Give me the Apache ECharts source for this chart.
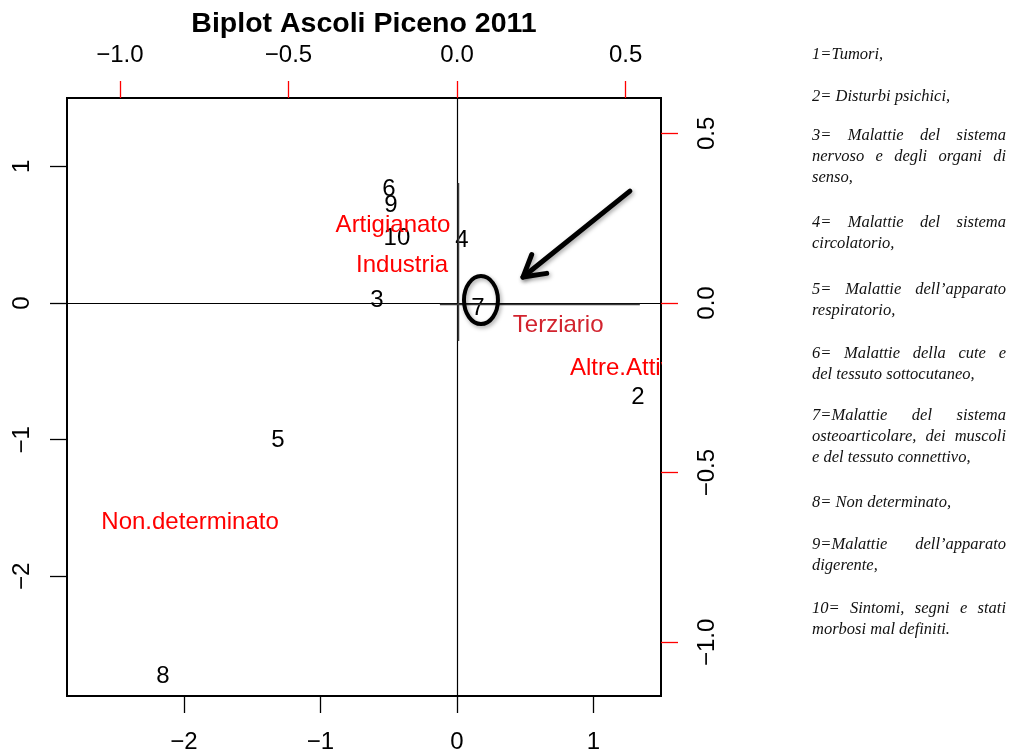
<!DOCTYPE html>
<html>
<head>
<meta charset="utf-8">
<script src="https://cdn.jsdelivr.net/npm/echarts@6/dist/echarts.min.js"></script>
<style>
  html, body { margin: 0; padding: 0; background: #fff; }
  #chart { width: 1019px; height: 756px; }
</style>
</head>
<body>
<div id="chart"></div>
<script>
// case scores (black numbers) -> bottom / left axes
const caseNames = ["2", "3", "4", "5", "6", "7", "8", "9", "10"];
const caseX = [1.326, -0.586, 0.037, -1.311, -0.498, 0.154, -2.154, -0.484, -0.44];
const caseY = [-0.688, 0.022, 0.461, -1.002, 0.834, -0.037, -2.729, 0.717, 0.475];

// variables (red labels) -> top / right axes
const varNames = ["Artigianato", "Industria", "Terziario", "Altre.Attività", "Non.determinato"];
const varX = [-0.19, -0.163, 0.30, 0.525, -0.792];
const varY = [0.23, 0.112, -0.065, -0.194, -0.645];

// tick labels
const bottomTicks = [-2, -1, 0, 1];
const leftTicks = [-2, -1, 0, 1];
const topTicks = [-1, -0.5, 0, 0.5];
const rightTicks = [-1, -0.5, 0, 0.5];

// axis ranges (as in the R biplot)
const xRange = [-2.857, 1.495];
const yRange = [-2.875, 1.5];
const x2Range = [-1.157, 0.605];
const y2Range = [-1.158, 0.604];

// hand-drawn annotation: circle round "7" and an arrow pointing at it
const circleAt = [0.176, 0.022];
const arrowFrom = [1.267, 0.819];
const arrowTo = [0.484, 0.19];
// axis lines of the pasted zoomed-in crop (slightly offset from the real ones)
const pastedV = [[0.011, 0.878], [0.011, -0.278]];
const pastedH = [[-0.125, -0.011], [1.34, -0.011]];

// side note text
const legendParas = [
  ["1=Tumori,"],
  ["2= Disturbi psichici,"],
  ["3= Malattie del sistema", "nervoso e degli organi di", "senso,"],
  ["4= Malattie del sistema", "circolatorio,"],
  ["5= Malattie dell’apparato", "respiratorio,"],
  ["6= Malattie della cute e", "del tessuto sottocutaneo,"],
  ["7=Malattie del sistema", "osteoarticolare, dei muscoli", "e del tessuto connettivo,"],
  ["8= Non determinato,"],
  ["9=Malattie dell’apparato", "digerente,"],
  ["10= Sintomi, segni e stati", "morbosi mal definiti."]
];

const SANS = '"Liberation Sans", Arial, Helvetica, sans-serif';
const SERIF_FONT = 'italic 16.5px "Liberation Serif", "Times New Roman", serif';
const GRID = { left: 67, right: 661, top: 98, bottom: 696 };

const varColors = { "Terziario": "#d2232e" };

const minus = (s) => String(s).replace("-", "\u2212");
const fmtInt = (v) => minus(Math.round(v));
const fmtOne = (v) => minus(v.toFixed(1));

const chart = echarts.init(document.getElementById("chart"));

function axis(position, range, ticks, fmt, color, margin, rotate) {
  return {
    type: "value",
    position: position,
    min: range[0],
    max: range[1],
    axisLine: { show: false, onZero: false },
    splitLine: { show: false },
    axisTick: {
      show: true,
      length: 17,
      customValues: ticks,
      lineStyle: { color: color, width: 1.3 }
    },
    axisLabel: {
      customValues: ticks,
      formatter: fmt,
      fontSize: 24,
      fontFamily: SANS,
      color: "#000",
      margin: margin,
      rotate: rotate || 0
    }
  };
}

const options = {
  animation: false,
  backgroundColor: "#fff",
  grid: {
    left: GRID.left,
    top: GRID.top,
    width: GRID.right - GRID.left,
    height: GRID.bottom - GRID.top,
    show: true,
    borderColor: "#000",
    borderWidth: 2,
    backgroundColor: "transparent",
    containLabel: false,
    outerBoundsMode: "none"
  },
  xAxis: [
    axis("bottom", xRange, bottomTicks, fmtInt, "#000", 34),
    axis("top", x2Range, topTicks, fmtOne, "#ff0000", 31)
  ],
  yAxis: [
    axis("left", yRange, leftTicks, fmtInt, "#000", 33, 90),
    axis("right", y2Range, rightTicks, fmtOne, "#ff0000", 34, 90)
  ],
  series: [
    {
      name: "casi",
      type: "scatter",
      xAxisIndex: 0,
      yAxisIndex: 0,
      symbolSize: 1,
      itemStyle: { color: "rgba(0,0,0,0)", opacity: 1 },
      emphasis: { disabled: true },
      label: {
        show: true,
        position: "inside",
        formatter: "{b}",
        color: "#000",
        fontSize: 24,
        fontFamily: SANS
      },
      data: caseNames.map((n, i) => ({ name: n, value: [caseX[i], caseY[i]] })),
      markLine: {
        silent: true,
        symbol: ["none", "none"],
        label: { show: false },
        lineStyle: { color: "#000", width: 1.2, type: "solid", opacity: 1 },
        data: [{ xAxis: 0 }, { yAxis: 0 }]
      }
    },
    {
      name: "variabili",
      type: "scatter",
      xAxisIndex: 1,
      yAxisIndex: 1,
      symbolSize: 1,
      itemStyle: { color: "rgba(0,0,0,0)", opacity: 1 },
      emphasis: { disabled: true },
      label: {
        show: true,
        position: "inside",
        formatter: "{b}",
        color: "#ff0000",
        fontSize: 24,
        fontFamily: SANS
      },
      data: varNames.map((n, i) => ({
        name: n,
        value: [varX[i], varY[i]],
        label: varColors[n] ? { color: varColors[n] } : undefined
      }))
    }
  ]
};

chart.setOption(options);

// ---- overlay: title, annotation, clipping mask, side notes ----
const px = (p) => chart.convertToPixel({ xAxisIndex: 0, yAxisIndex: 0 }, p);
const px2 = (p) => chart.convertToPixel({ xAxisIndex: 1, yAxisIndex: 1 }, p);

const graphics = [];

graphics.push({
  type: "text",
  x: (GRID.left + GRID.right) / 2,
  y: 24,
  style: {
    text: "Biplot Ascoli Piceno 2011",
    font: 'bold 28.5px ' + SANS,
    fill: "#000",
    textAlign: "center",
    textVerticalAlign: "middle"
  }
});

// R clips text to the plot region: hide what spills over the right border
const altre = px2([varX[3], varY[3]]);
graphics.push({
  type: "rect",
  z: 50,
  shape: { x: GRID.right + 1, y: altre[1] - 16, width: 46, height: 32 },
  style: { fill: "#fff" }
});

[pastedV, pastedH].forEach((seg) => {
  graphics.push({
    type: "polyline",
    z: 55,
    shape: { points: seg.map(px) },
    style: { stroke: "#3a3a3a", lineWidth: 1.6, fill: "none" }
  });
});

const shadow = { shadowBlur: 4, shadowColor: "rgba(0,0,0,0.35)", shadowOffsetX: 1.5, shadowOffsetY: 2 };

const c = px(circleAt);
graphics.push({
  type: "ellipse",
  z: 60,
  shape: { cx: c[0], cy: c[1], rx: 17, ry: 24 },
  style: Object.assign({ fill: "none", stroke: "#000", lineWidth: 4 }, shadow)
});

const a0 = px(arrowFrom);
const a1 = px(arrowTo);
const ang = Math.atan2(a0[1] - a1[1], a0[0] - a1[0]);
const wing = 24, spread = 30 * Math.PI / 180;
const w1 = [a1[0] + wing * Math.cos(ang - spread), a1[1] + wing * Math.sin(ang - spread)];
const w2 = [a1[0] + wing * Math.cos(ang + spread), a1[1] + wing * Math.sin(ang + spread)];
graphics.push({
  type: "polyline",
  z: 60,
  shape: { points: [a0, a1] },
  style: Object.assign({ stroke: "#000", lineWidth: 5, lineCap: "round", fill: "none" }, shadow)
});
graphics.push({
  type: "polyline",
  z: 60,
  shape: { points: [w1, a1, w2] },
  style: Object.assign({ stroke: "#000", lineWidth: 5, lineCap: "round", lineJoin: "round", fill: "none" }, shadow)
});

// side notes, justified like the original text box
const ctx = document.createElement("canvas").getContext("2d");
ctx.font = SERIF_FONT;
const noteLeft = 812, noteWidth = 194, lineH = 21;
const paraTop = [55, 97, 136, 223, 290, 354, 416, 503, 545, 609];

legendParas.forEach((lines, p) => {
  lines.forEach((line, k) => {
    const y = paraTop[p] + k * lineH;
    const justify = k < lines.length - 1;
    const words = line.split(" ");
    if (!justify || words.length < 2) {
      graphics.push({
        type: "text", x: noteLeft, y: y,
        style: { text: line, font: SERIF_FONT, fill: "#111", textAlign: "left", textVerticalAlign: "middle" }
      });
      return;
    }
    const widths = words.map((w) => ctx.measureText(w).width);
    const gap = (noteWidth - widths.reduce((s, w) => s + w, 0)) / (words.length - 1);
    let x = noteLeft;
    words.forEach((w, j) => {
      graphics.push({
        type: "text", x: x, y: y,
        style: { text: w, font: SERIF_FONT, fill: "#111", textAlign: "left", textVerticalAlign: "middle" }
      });
      x += widths[j] + gap;
    });
  });
});

chart.setOption({ graphic: graphics });
</script>
</body>
</html>
